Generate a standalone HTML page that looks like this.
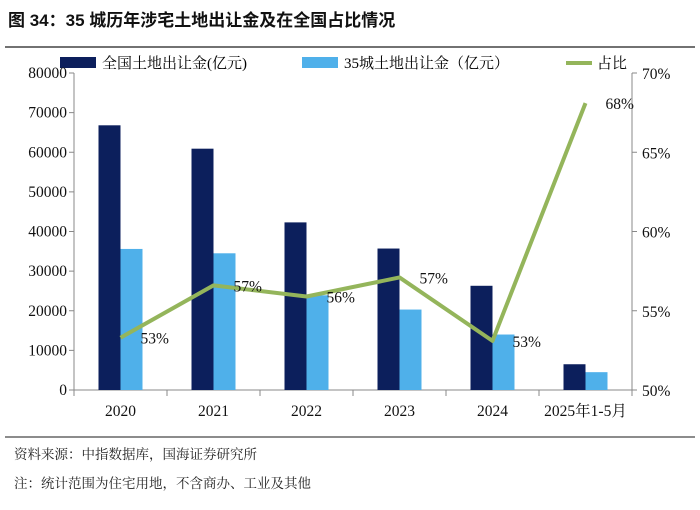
<!DOCTYPE html>
<html><head><meta charset="utf-8"><style>
body{margin:0;background:#fff;width:700px;height:505px;overflow:hidden;font-family:"Liberation Serif","Noto Serif CJK SC",serif}
</style></head><body>
<svg width="700" height="505" xmlns="http://www.w3.org/2000/svg">
<text x="8" y="26" font-size="17" font-weight="bold" font-family="Liberation Sans,Noto Sans CJK SC,sans-serif" fill="#111">图 34：35 城历年涉宅土地出让金及在全国占比情况</text>
<line x1="5" y1="47" x2="695" y2="47" stroke="#444" stroke-width="1.5"/>
<g id="legend" font-size="15" font-family="Liberation Serif,Noto Serif CJK SC,serif">
<rect x="60" y="57" width="36" height="11" fill="#0c1f5c"/>
<text x="102" y="68">全国土地出让金(亿元)</text>
<rect x="302" y="57" width="36" height="11" fill="#4fb0ea"/>
<text x="344" y="68">35城土地出让金（亿元）</text>
<line x1="566" y1="63" x2="592" y2="63" stroke="#94b55b" stroke-width="4"/>
<text x="597" y="68">占比</text>
</g>
<g id="plot"></g>
<line x1="5" y1="437" x2="695" y2="437" stroke="#666" stroke-width="1.5"/>
<text x="14" y="459" font-size="13.5" fill="#222">资料来源：中指数据库，国海证券研究所</text>
<text x="14" y="488" font-size="13.5" fill="#222">注：统计范围为住宅用地，不含商办、工业及其他</text>
</svg>
<script>
const categories=["2020","2021","2022","2023","2024","2025年1-5月"];
const nationalValues=[66800,60900,42300,35700,26300,6500];
const cityValues=[35600,34500,23900,20300,14000,4500];
const shareValues=[53.3,56.6,55.9,57.1,53.1,68.1];
const shareLabels=["53%","57%","56%","57%","53%","68%"];
const leftTicks=[0,10000,20000,30000,40000,50000,60000,70000,80000];
const rightTicks=[50,55,60,65,70];
const NS="http://www.w3.org/2000/svg";
const g=document.getElementById('plot');
const L=74,R=632,T=73,B=390;
const cw=(R-L)/categories.length;
const yL=v=>B-(v/80000)*(B-T);
const yR=v=>B-((v-50)/20)*(B-T);
const xc=i=>L+cw*(i+0.5);
function mk(t,a){const e=document.createElementNS(NS,t);for(const k in a)e.setAttribute(k,a[k]);g.appendChild(e);return e;}
let e;
e=mk('line',{x1:L,y1:T,x2:L,y2:B,stroke:'#888'});


e=mk('line',{x1:R,y1:T,x2:R,y2:B,stroke:'#888'});


e=mk('line',{x1:L,y1:B,x2:R,y2:B,stroke:'#888'});


leftTicks.forEach(v=>{
 e=mk('line',{x1:L-5,y1:yL(v),x2:L,y2:yL(v),stroke:'#888'});
 
 
 e=mk('text',{x:L-7,y:yL(v)+5,'text-anchor':'end','font-size':15.5,fill:'#111'});e.textContent=v;
 
 
});
rightTicks.forEach(v=>{
 e=mk('line',{x1:R,y1:yR(v),x2:R+5,y2:yR(v),stroke:'#888'});
 
 
 e=mk('text',{x:R+10,y:yR(v)+6,'font-size':15.5,fill:'#111'});e.textContent=v+'%';
 
 
});
for(let i=0;i<=categories.length;i++){
 e=mk('line',{x1:L+cw*i,y1:B,x2:L+cw*i,y2:B+6,stroke:'#888'});
 
 
}
categories.forEach((c,i)=>{
 const x=xc(i);
 e=mk('rect',{x:x-22,y:yL(nationalValues[i]),width:22,height:B-yL(nationalValues[i]),fill:'#0c1f5c'});
 
 
 e=mk('rect',{x:x,y:yL(cityValues[i]),width:22,height:B-yL(cityValues[i]),fill:'#4fb0ea'});
 
 
 e=mk('text',{x:x,y:B+26,'text-anchor':'middle','font-size':15.5,fill:'#111'});e.textContent=c;
 
 
});
e=mk('polyline',{points:shareValues.map((v,i)=>xc(i)+','+yR(v)).join(' '),fill:'none',stroke:'#94b55b','stroke-width':4,'stroke-linejoin':'round'});


shareValues.forEach((v,i)=>{
 e=mk('text',{x:xc(i)+20,y:yR(v)+6,'font-size':15.5,fill:'#111'});e.textContent=shareLabels[i];
 
 
});
</script>
</body></html>
